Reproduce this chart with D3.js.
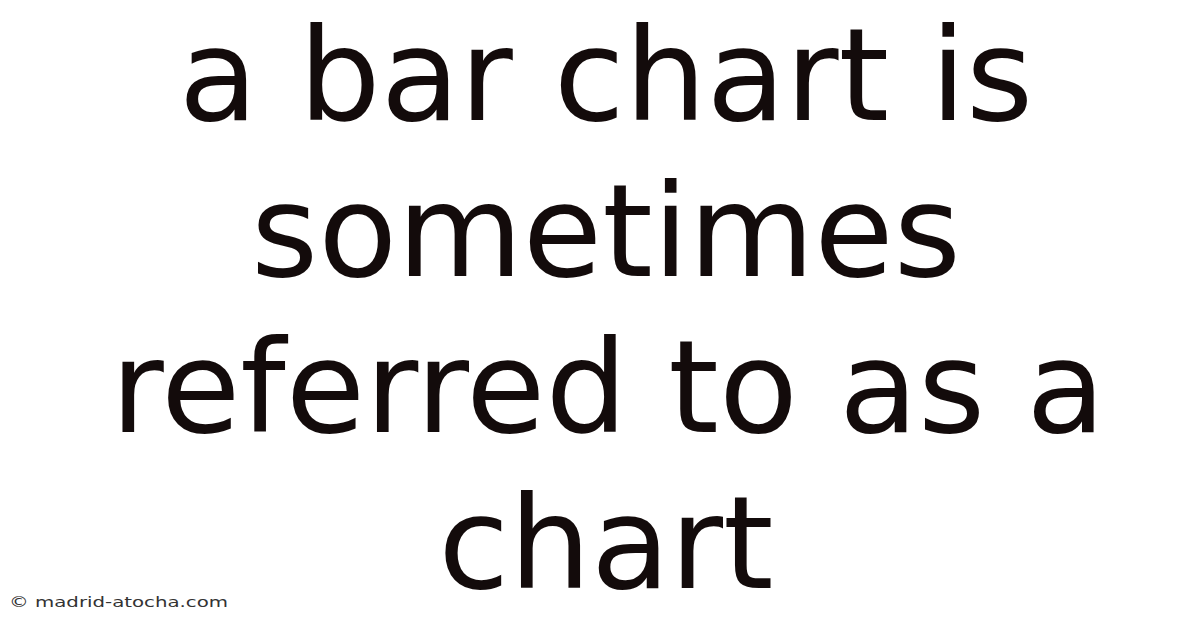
<!DOCTYPE html>
<html lang="en">
<head>
    <meta charset="UTF-8">
    <title>a bar chart is sometimes referred to as a chart</title>
    <script src="https://cdnjs.cloudflare.com/ajax/libs/d3/7.8.5/d3.min.js"></script>
    <style>
        body {
            margin: 0;
            padding: 0;
            background-color: #fff;
        }
        svg { display: block; }
    </style>
</head>
<body>
    <div id="chart"></div>
    <script>
        // Title lines, top to bottom
        const lines = ['a bar chart is', 'sometimes', 'referred to as a', 'chart'];
        const credit = '\u00a9 madrid-atocha.com';

        const width = 1200;
        const height = 628;

        const svg = d3.select('#chart')
            .append('svg')
            .attr('width', width)
            .attr('height', height);

        svg.append('rect')
            .attr('width', width)
            .attr('height', height)
            .attr('fill', '#fff');

        // Baselines spread evenly
        const y = d3.scalePoint()
            .domain(d3.range(lines.length))
            .range([120, 588]);

        svg.append('g')
            .selectAll('text')
            .data(lines)
            .enter().append('text')
            .attr('x', (d, i) => width / 2 + (i === 2 ? 8 : 6))
            .attr('y', (d, i) => y(i))
            .attr('text-anchor', 'middle')
            .attr('font-family', '"DejaVu Sans", sans-serif')
            .attr('font-size', 129)
            .attr('fill', '#130b0b')
            .text(d => d);

        // watermark is stretched wide in the original
        svg.append('text')
            .attr('x', 9)
            .attr('y', 607)
            .attr('font-family', '"DejaVu Sans", sans-serif')
            .attr('font-size', 14)
            .attr('textLength', 219)
            .attr('lengthAdjust', 'spacingAndGlyphs')
            .attr('fill', '#333')
            .text(credit);
    </script>
</body>
</html>
